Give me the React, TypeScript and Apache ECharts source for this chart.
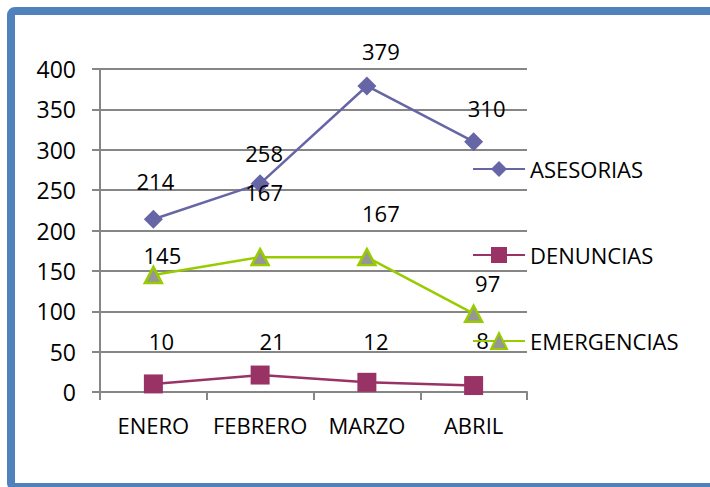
import React, { useEffect, useRef } from "react";
import * as echarts from "echarts";

const categories = ["ENERO", "FEBRERO", "MARZO", "ABRIL"];
const asesorias = [214, 258, 379, 310];
const denuncias = [10, 21, 12, 8];
const emergencias = [145, 167, 167, 97];
const yTicks = { min: 0, max: 400, interval: 50 };

const asesoriasOffsets = [[2, -38], [4, -31], [14, -35], [13, -34]];
const denunciasOffsets = [[8, -43], [12, -34], [9, -41], [9, -46]];
const emergenciasOffsets = [[9, -20], [4, -65], [14, -44], [14, -31]];

const FONT = "'Open Sans', sans-serif";

function withLabels(values: number[], offsets: number[][]) {
  return values.map((v, i) => ({
    value: v,
    label: { offset: offsets[i] },
  }));
}

export default function App() {
  const ref = useRef<HTMLDivElement>(null);
  useEffect(() => {
    if (!ref.current) return;
    const chart = echarts.init(ref.current, null, { renderer: "svg" });
    const labelCfg = {
      show: true,
      position: "inside",
      color: "#000",
      fontSize: 22,
      fontFamily: FONT,
    };
    chart.setOption({
      animation: false,
      backgroundColor: "#fff",
      graphic: [
        {
          type: "rect",
          shape: { x: 11, y: 11, width: 720, height: 476, r: 4 },
          style: { fill: "none", stroke: "#4F81BD", lineWidth: 8 },
          z: 100,
        },
      ],
      grid: { left: 100, right: 183, top: 69, bottom: 95 },
      xAxis: {
        type: "category",
        data: categories,
        boundaryGap: true,
        axisLine: { lineStyle: { color: "#868686", width: 2 } },
        axisTick: { show: true, length: 8, lineStyle: { color: "#868686", width: 2 } },
        axisLabel: {
          color: "#000",
          fontSize: 22,
          fontFamily: FONT,
          margin: 22,
          interval: 0,
          hideOverlap: false,
        },
      },
      yAxis: {
        type: "value",
        min: yTicks.min,
        max: yTicks.max,
        interval: yTicks.interval,
        axisLine: { show: true, lineStyle: { color: "#868686", width: 2 } },
        axisTick: { show: true, length: 8, lineStyle: { color: "#868686", width: 2 } },
        splitLine: { show: true, lineStyle: { color: "#868686", width: 2 } },
        axisLabel: { color: "#000", fontSize: 23, fontFamily: FONT, margin: 24 },
      },
      legend: {
        orient: "vertical",
        left: 467,
        top: 153,
        itemWidth: 52,
        itemHeight: 20,
        itemGap: 64,
        textStyle: { color: "#000", fontSize: 22, fontFamily: FONT, lineHeight: 22 },
        data: ["ASESORIAS", "DENUNCIAS", "EMERGENCIAS"],
      },
      series: [
        {
          name: "ASESORIAS",
          type: "line",
          data: withLabels(asesorias, asesoriasOffsets),
          symbol: "diamond",
          symbolSize: 19,
          itemStyle: { color: "#6666A6" },
          lineStyle: { color: "#6666A6", width: 2.5 },
          label: labelCfg,
        },
        {
          name: "DENUNCIAS",
          type: "line",
          data: withLabels(denuncias, denunciasOffsets),
          symbol: "rect",
          symbolSize: 19,
          itemStyle: { color: "#993366" },
          lineStyle: { color: "#993366", width: 2.5 },
          label: labelCfg,
        },
        {
          name: "EMERGENCIAS",
          type: "line",
          data: withLabels(emergencias, emergenciasOffsets),
          symbol: "triangle",
          symbolSize: [17, 16],
          itemStyle: { color: "#969696", borderColor: "#99CC00", borderWidth: 2.5 },
          lineStyle: { color: "#99CC00", width: 2.5 },
          label: labelCfg,
        },
      ],
    });
    return () => chart.dispose();
  }, []);
  return (
    <div
      ref={ref}
      style={{ position: "fixed", left: 0, top: 0, width: 710, height: 487 }}
    />
  );
}
